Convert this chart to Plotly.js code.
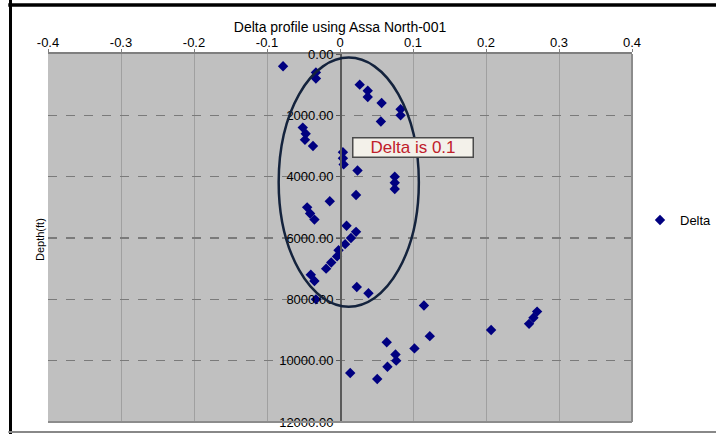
<!DOCTYPE html>
<html>
<head>
<meta charset="utf-8">
<script src="https://cdn.plot.ly/plotly-3.0.1.min.js"></script>
<style>
html,body{margin:0;padding:0;background:#fff;}
#chart{width:716px;height:434px;}
</style>
</head>
<body>
<div id="chart"></div>
<script>
// Data
const depthFt = [400, 600, 800, 1000, 1200, 1400, 1600, 1800, 2000, 2200,
  2400, 2600, 2800, 3000, 3200, 3400, 3600, 3800, 4000, 4200,
  4400, 4600, 4800, 5000, 5200, 5400, 5600, 5800, 6000, 6200,
  6400, 6600, 6800, 7000, 7200, 7400, 7600, 7800, 8000, 8200,
  8400, 8600, 8800, 9000, 9200, 9400, 9600, 9800, 10000, 10200,
  10400, 10600];
const deltaVals = [-0.078, -0.033, -0.033, 0.027, 0.038, 0.038, 0.057, 0.083, 0.083, 0.056,
  -0.051, -0.047, -0.048, -0.037, 0.004, 0.004, 0.005, 0.024, 0.075, 0.075,
  0.075, 0.022, -0.014, -0.045, -0.041, -0.035, 0.009, 0.022, 0.015, 0.007,
  -0.002, -0.004, -0.012, -0.019, -0.040, -0.035, 0.023, 0.039, -0.033, 0.115,
  0.270, 0.265, 0.259, 0.207, 0.123, 0.064, 0.102, 0.076, 0.077, 0.065,
  0.014, 0.051];
const xTickVals = [-0.4, -0.3, -0.2, -0.1, 0, 0.1, 0.2, 0.3, 0.4];
const xTickText = ["-0.4", "-0.3", "-0.2", "-0.1", "0", "0.1", "0.2", "0.3", "0.4"];
const yTickVals = [0, 2000, 4000, 6000, 8000, 10000, 12000];
const yTickText = ["0.00", "2000.00", "4000.00", "6000.00", "8000.00", "10000.00", "12000.00"];
const seriesName = "Delta";
const chartTitle = "Delta profile using Assa North-001";
const yTitle = "Depth(ft)";
const noteText = "Delta is 0.1";
// ellipse extent (data units) and note position
const ellipseX = [-0.084, 0.108];
const ellipseY = [118, 8240];
const noteX = 0.1, noteY = 3060;

const font = "Liberation Sans, Arial, sans-serif";

const trace = {
  type: "scatter",
  mode: "markers",
  name: seriesName,
  x: deltaVals,
  y: depthFt,
  marker: {symbol: "diamond", size: 8, color: "#000080"},
  showlegend: true
};

const layout = {
  width: 716, height: 434,
  margin: {l: 48, r: 84, t: 54, b: 12, pad: 0, autoexpand: false},
  paper_bgcolor: "#ffffff",
  plot_bgcolor: "#c0c0c0",
  font: {family: font, size: 13, color: "#000"},
  title: {text: chartTitle, font: {family: font, size: 14, color: "#000"},
          x: 0.5, xanchor: "center", xref: "paper", y: 1 - 27/434, yanchor: "middle",
          automargin: false},
  xaxis: {
    side: "top", range: [-0.4, 0.4], tickvals: xTickVals, ticktext: xTickText,
    showline: true, linecolor: "#7f7f7f", linewidth: 2,
    ticks: "outside", ticklen: 3, tickcolor: "#7f7f7f", tickwidth: 1,
    ticklabelstandoff: -3,
    showgrid: true, gridcolor: "#a0a0a0", gridwidth: 1,
    zeroline: false, tickfont: {family: font, size: 13, color: "#000"},
    automargin: false, fixedrange: true
  },
  yaxis: {
    range: [12000, 0], tickvals: yTickVals, ticktext: yTickText,
    anchor: "free", position: 0.5,
    showline: true, linecolor: "#5a5a5a", linewidth: 1.5,
    ticks: "outside", ticklen: 4, tickcolor: "#5a5a5a",
    showgrid: true, gridcolor: "#7a7a7a", gridwidth: 1.5, griddash: "dash",
    zeroline: false, tickfont: {family: font, size: 13, color: "#000"},
    automargin: false, fixedrange: true
  },
  legend: {
    xref: "container", yref: "container",
    x: 640 / 716, y: 1 - 220 / 434, xanchor: "left", yanchor: "middle",
    bgcolor: "rgba(0,0,0,0)", font: {family: font, size: 13, color: "#000"},
    itemwidth: 30
  },
  shapes: [
    {type: "circle", xref: "x", yref: "y", x0: ellipseX[0], x1: ellipseX[1], y0: ellipseY[0], y1: ellipseY[1],
     line: {color: "#14233d", width: 2.5}, layer: "above"},
    // plot area darker right/bottom edges
    {type: "line", xref: "paper", yref: "paper", x0: 1, x1: 1, y0: 0, y1: 1, line: {color: "#8c8c8c", width: 2}},
    {type: "line", xref: "paper", yref: "paper", x0: 0, x1: 1, y0: 0, y1: 0, line: {color: "#8c8c8c", width: 2}},
    // outer frame
    {type: "line", xref: "paper", yref: "paper", x0: -0.0642, x1: -0.0642, y0: -0.04, y1: 1.16, line: {color: "#000", width: 3}},
    {type: "line", xref: "paper", yref: "paper", x0: -0.068, x1: 1.15, y0: 1.1332, y1: 1.1332, line: {color: "#000", width: 3.5}},
    {type: "line", xref: "paper", yref: "paper", x0: -0.068, x1: 1.15, y0: -0.0272, y1: -0.0272, line: {color: "#888", width: 2}}
  ],
  annotations: [
    {text: yTitle, xref: "paper", yref: "paper", x: (40 - 48) / 584, y: (422 - 240) / 368,
     textangle: -90, showarrow: false, font: {family: font, size: 11, color: "#000"},
     xanchor: "center", yanchor: "middle"},
    {text: noteText, xref: "x", yref: "y", x: noteX, y: noteY, showarrow: false,
     font: {family: font, size: 17, color: "#c0202a"},
     bgcolor: "#f3f1ea", bordercolor: "#4a4a4a", borderwidth: 1.5, borderpad: 1,
     width: 117, height: 16, xanchor: "center", yanchor: "middle"}
  ]
};

Plotly.newPlot("chart", [trace], layout, {displayModeBar: false, staticPlot: true});
</script>
</body>
</html>
